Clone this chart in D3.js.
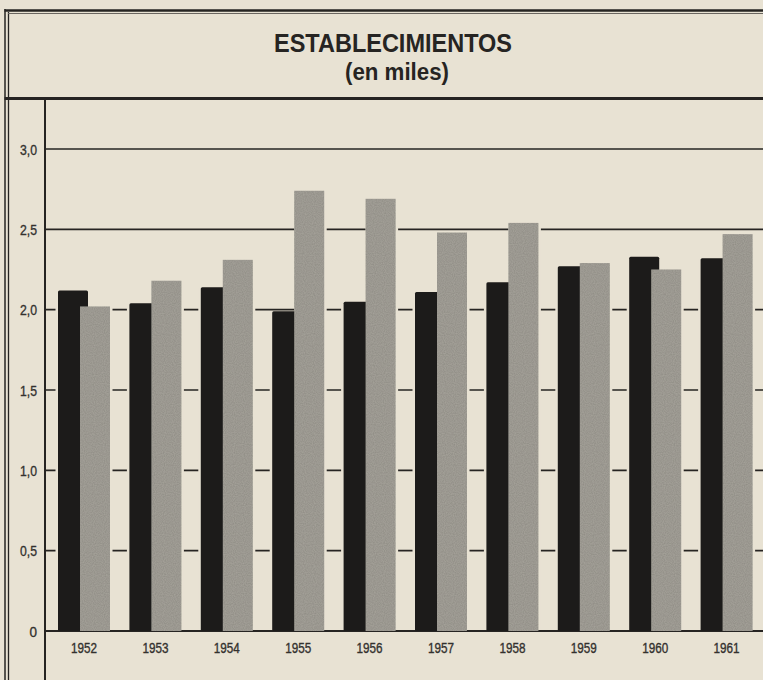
<!DOCTYPE html>
<html>
<head>
<meta charset="utf-8">
<script src="https://cdn.jsdelivr.net/npm/d3@7/dist/d3.min.js"></script>
<style>
  html, body { margin: 0; padding: 0; background: #e8e2d3; }
  svg { display: block; }
</style>
</head>
<body>
<svg id="chart" width="763" height="680"></svg>
<script>
const years = ["1952","1953","1954","1955","1956","1957","1958","1959","1960","1961"];
const seriesDark = [2.12, 2.04, 2.14, 1.99, 2.05, 2.11, 2.17, 2.27, 2.33, 2.32];
const seriesLight = [2.02, 2.18, 2.31, 2.74, 2.69, 2.48, 2.54, 2.29, 2.25, 2.47];
const yTicks = [0, 0.5, 1.0, 1.5, 2.0, 2.5, 3.0];
const yTickLabels = ["0", "0,5", "1,0", "1,5", "2,0", "2,5", "3,0"];
const titleText = "ESTABLECIMIENTOS";
const subtitleText = "(en miles)";

const W = 763, H = 680;
const bg = "#e8e2d3";
const ink = "#262422";
const labelInk = "#33312e";
const svg = d3.select("#chart");
svg.append("rect").attr("width", W).attr("height", H).attr("fill", bg);

const defs = svg.append("defs");
const f = defs.append("filter").attr("id", "grain").attr("x", 0).attr("y", 0).attr("width", 1).attr("height", 1);
f.append("feTurbulence").attr("type", "fractalNoise").attr("baseFrequency", 0.9).attr("numOctaves", 1).attr("seed", 3).attr("result", "n");
f.append("feColorMatrix").attr("in", "n").attr("type", "matrix")
  .attr("values", "0 0 0 0 0  0 0 0 0 0  0 0 0 0 0  0 0 0 0.35 -0.05").attr("result", "a");
f.append("feComposite").attr("in", "a").attr("in2", "SourceGraphic").attr("operator", "in").attr("result", "b");
const fm = f.append("feMerge");
fm.append("feMergeNode").attr("in", "SourceGraphic");
fm.append("feMergeNode").attr("in", "b");

const axisX = 45;
const x = d3.scaleBand().domain(years).range([48.3, 762.3]).paddingInner(0).paddingOuter(0);
const y = d3.scaleLinear().domain([0, 3]).range([631, 149]);

const sans = "'Liberation Sans', Arial, sans-serif";

// Frame
svg.append("line").attr("x1", 5).attr("x2", 5).attr("y1", 9).attr("y2", H).attr("stroke", ink).attr("stroke-width", 1.5);
svg.append("line").attr("x1", 8.5).attr("x2", 8.5).attr("y1", 12).attr("y2", H).attr("stroke", ink).attr("stroke-width", 1.3);
svg.append("line").attr("x1", 4.5).attr("x2", W).attr("y1", 10.5).attr("y2", 10.5).attr("stroke", ink).attr("stroke-width", 2.5);
svg.append("line").attr("x1", 8).attr("x2", W).attr("y1", 13.5).attr("y2", 13.5).attr("stroke", "#6a6660").attr("stroke-width", 1);
svg.append("line").attr("x1", 4.5).attr("x2", W).attr("y1", 98.5).attr("y2", 98.5).attr("stroke", ink).attr("stroke-width", 3);

// Title
svg.append("text").attr("x", 393).attr("y", 52).attr("text-anchor", "middle")
  .attr("font-family", sans).attr("font-weight", "bold")
  .attr("font-size", 26).attr("textLength", 238).attr("lengthAdjust", "spacingAndGlyphs")
  .attr("fill", ink).text(titleText);
svg.append("text").attr("x", 397).attr("y", 80).attr("text-anchor", "middle")
  .attr("font-family", sans).attr("font-weight", "bold")
  .attr("font-size", 23).attr("textLength", 104).attr("lengthAdjust", "spacingAndGlyphs")
  .attr("fill", ink).text(subtitleText);

// Gridlines
svg.append("g").selectAll("line").data(yTicks).join("line")
  .attr("x1", axisX).attr("x2", W)
  .attr("y1", d => y(d)).attr("y2", d => y(d))
  .attr("stroke", ink).attr("stroke-width", d => d === 0 ? 2 : 1.6);

// Y axis line
svg.append("line").attr("x1", axisX).attr("x2", axisX).attr("y1", 98).attr("y2", H)
  .attr("stroke", ink).attr("stroke-width", 2);

// Y labels
svg.append("g").selectAll("text").data(yTicks).join("text")
  .attr("x", 37).attr("y", d => y(d) + 5.5).attr("text-anchor", "end")
  .attr("font-family", sans).attr("font-size", 15).attr("fill", labelInk)
  .attr("stroke", labelInk).attr("stroke-width", 0.35)
  .attr("textLength", (d, i) => yTickLabels[i].length === 1 ? 7.5 : 17).attr("lengthAdjust", "spacingAndGlyphs")
  .text((d, i) => yTickLabels[i]);

const rows = years.map((yr, i) => ({ yr, dark: seriesDark[i], light: seriesLight[i] }));
const cx = d => x(d.yr) + x.bandwidth() / 2;
const darkOff = -26, lightOff = -4, barW = 30, knock = 2.5;

// knockouts (paper showing around bars over gridlines)
const ko = svg.append("g");
ko.selectAll("rect.kd").data(rows).join("rect").attr("class", "kd")
  .attr("x", d => cx(d) + darkOff - knock).attr("width", barW + knock)
  .attr("y", d => y(d.dark)).attr("height", d => y(0) - y(d.dark) - 1.2).attr("fill", bg);
ko.selectAll("rect.kl").data(rows).join("rect").attr("class", "kl")
  .attr("x", d => cx(d) + lightOff).attr("width", barW + knock)
  .attr("y", d => y(d.light)).attr("height", d => y(0) - y(d.light) - 1.2).attr("fill", bg);

// dark bars
svg.append("g").selectAll("rect").data(rows).join("rect")
  .attr("x", d => cx(d) + darkOff).attr("width", barW)
  .attr("y", d => y(d.dark)).attr("height", d => y(0) - y(d.dark))
  .attr("rx", 1.5).attr("fill", "#1c1b1a");

// light bars
svg.append("g").selectAll("rect").data(rows).join("rect")
  .attr("x", d => cx(d) + lightOff).attr("width", barW)
  .attr("y", d => y(d.light)).attr("height", d => y(0) - y(d.light))
  .attr("fill", "#a5a29a").attr("filter", "url(#grain)");

// X labels
svg.append("g").selectAll("text").data(years).join("text")
  .attr("x", d => x(d) + x.bandwidth() / 2).attr("y", 652.5).attr("text-anchor", "middle")
  .attr("font-family", sans).attr("font-size", 14).attr("fill", labelInk)
  .attr("stroke", labelInk).attr("stroke-width", 0.35)
  .attr("textLength", 26).attr("lengthAdjust", "spacingAndGlyphs")
  .text(d => d);
</script>
</body>
</html>
